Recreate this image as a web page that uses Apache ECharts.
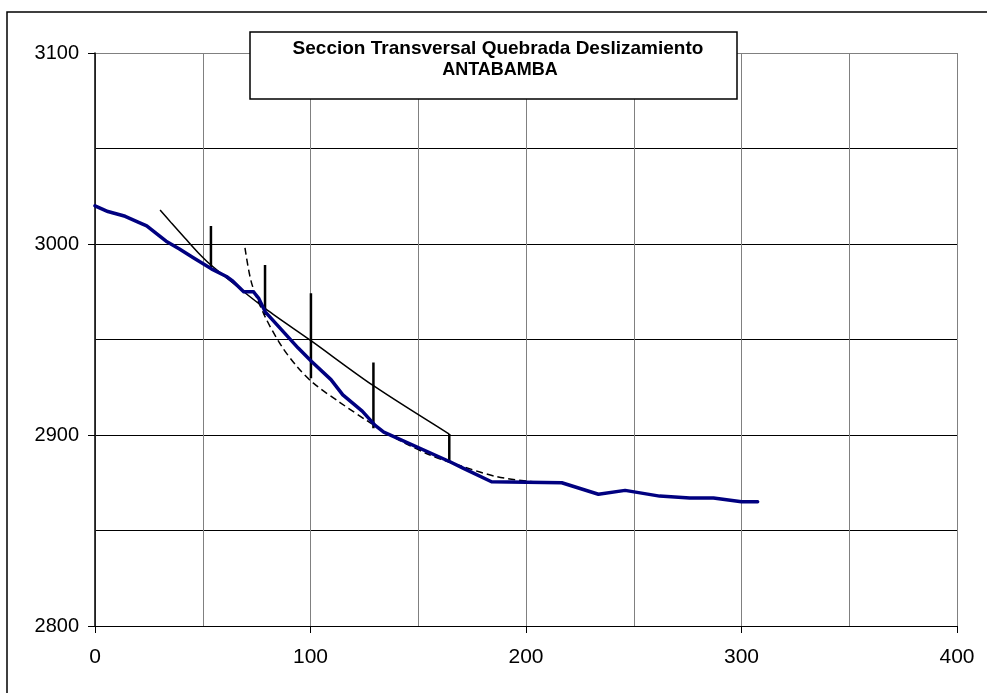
<!DOCTYPE html>
<html>
<head>
<meta charset="utf-8">
<script src="https://cdn.jsdelivr.net/npm/echarts@6/dist/echarts.min.js"></script>
<style>
  html, body { margin: 0; padding: 0; background: #fff; }
  #chart { width: 987px; height: 693px; }
</style>
</head>
<body>
<div id="chart"></div>
<script>
// Ground profile of the ravine cross-section (distance m, elevation m)
const terrenoX = [0, 6, 14, 20, 24, 29, 33, 39, 46, 54, 61, 64, 69, 73.5, 76, 79, 86.6, 94.3, 100.5, 109.5, 115, 124, 130, 134, 164.7, 171, 184, 216.6, 233.6, 246, 262, 276, 287, 300, 307.5];
const terrenoY = [3020, 3017, 3014.5, 3011.5, 3009.5, 3005, 3001.5, 2997.5, 2992.5, 2987, 2983, 2980.5, 2975, 2975, 2971.5, 2964.5, 2955, 2945.5, 2938.5, 2929, 2921, 2912.5, 2905, 2901.5, 2886, 2882.5, 2875.5, 2875, 2869, 2871, 2868, 2867, 2867, 2865, 2865];

// Upper failure line (thin solid)
const fallaX = [30.2, 35.6, 41.8, 48, 53.8, 78.9, 100.2, 129.2, 164.4];
const fallaY = [3017.8, 3010.8, 3003, 2995.3, 2989, 2966.3, 2949.4, 2925.8, 2900.5];

// Circular slip surface (dashed)
const circuloX = [69.6, 72.7, 78.9, 86.6, 94, 101.5, 113.7, 127.6, 140, 155.5, 170.9, 186.4, 201.9, 209];
const circuloY = [2998, 2979.4, 2962, 2946.5, 2935.5, 2927, 2917, 2906.5, 2898, 2889.5, 2883.4, 2878.2, 2875.6, 2875];

// Slice boundaries (vertical segments)
const dovelaX = [53.8, 78.9, 100.2, 129.2, 164.4];
const dovelaTop = [3009.4, 2989, 2974.2, 2937.9, 2900.5];
const dovelaBottom = [2988, 2962.8, 2929.7, 2903.5, 2885.5];

// Axis ranges and title
const xMin = 0, xMax = 400, xStep = 100;
const yMin = 2800, yMax = 3100, yStep = 100;
const tituloL1 = 'Seccion Transversal Quebrada Deslizamiento';
const tituloL2 = 'ANTABAMBA';

const zip = (xs, ys) => xs.map((x, i) => [x, ys[i]]);
const FONT = '"Liberation Sans", Arial, sans-serif';

const dovelaSeries = dovelaX.map((x, i) => ({
  type: 'line',
  data: [[x, dovelaTop[i]], [x, dovelaBottom[i]]],
  symbol: 'none',
  lineStyle: { color: '#000', width: 2.5 },
  z: 4,
  silent: true
}));

const chart = echarts.init(document.getElementById('chart'), null, { renderer: 'canvas' });
chart.setOption({
  animation: false,
  backgroundColor: '#fff',
  grid: { left: 95, top: 53, right: 30, bottom: 67, show: false },
  xAxis: {
    type: 'value', min: xMin, max: xMax, interval: xStep,
    axisLine: { show: true, onZero: false, lineStyle: { color: '#000', width: 1 } },
    axisTick: { show: true, length: 7, lineStyle: { color: '#000' } },
    axisLabel: { color: '#000', fontSize: 21, fontFamily: FONT, margin: 21, formatter: v => String(v) },
    splitLine: { show: true, lineStyle: { color: '#808080', width: 1 } },
    minorTick: { show: false, splitNumber: 2 },
    minorSplitLine: { show: true, lineStyle: { color: '#808080', width: 1 } }
  },
  yAxis: {
    type: 'value', min: yMin, max: yMax, interval: yStep,
    axisLine: { show: true, onZero: false, lineStyle: { color: '#000', width: 1.5 } },
    axisTick: { show: true, length: 7, lineStyle: { color: '#000' } },
    axisLabel: { color: '#000', fontSize: 20, fontFamily: FONT, margin: 16, formatter: v => String(v) },
    splitLine: { show: true, lineStyle: { color: ['#000', '#000', '#000', '#808080'], width: 1 } },
    minorTick: { show: false, splitNumber: 2 },
    minorSplitLine: { show: true, lineStyle: { color: '#000', width: 1 } }
  },
  graphic: [
    { type: 'rect', shape: { x: 7, y: 12, width: 1000, height: 700 },
      style: { fill: 'none', stroke: '#000', lineWidth: 1.5 }, z: 100, silent: true },
    { type: 'rect', shape: { x: 250, y: 32, width: 487, height: 67 },
      style: { fill: '#fff', stroke: '#000', lineWidth: 1.5 }, z: 100, silent: true },
    { type: 'text', x: 498, y: 49, z: 101, silent: true,
      style: { text: tituloL1, fill: '#000', font: 'bold 19px ' + FONT, textAlign: 'center', textVerticalAlign: 'middle' } },
    { type: 'text', x: 500, y: 70, z: 101, silent: true,
      style: { text: tituloL2, fill: '#000', font: 'bold 18px ' + FONT, textAlign: 'center', textVerticalAlign: 'middle' } }
  ],
  series: [
    {
      type: 'line', data: zip(circuloX, circuloY), symbol: 'none', smooth: 0.3,
      lineStyle: { color: '#000', width: 1.5, type: [7, 4] }, z: 3, silent: true
    },
    {
      type: 'line', data: zip(fallaX, fallaY), symbol: 'none', smooth: 0.3,
      lineStyle: { color: '#000', width: 1.5 }, z: 3, silent: true
    },
    ...dovelaSeries,
    {
      type: 'line', data: zip(terrenoX, terrenoY), symbol: 'none',
      lineStyle: { color: '#000080', width: 3.5, join: 'round', cap: 'round' }, z: 5, silent: true
    }
  ]
});
</script>
</body>
</html>
